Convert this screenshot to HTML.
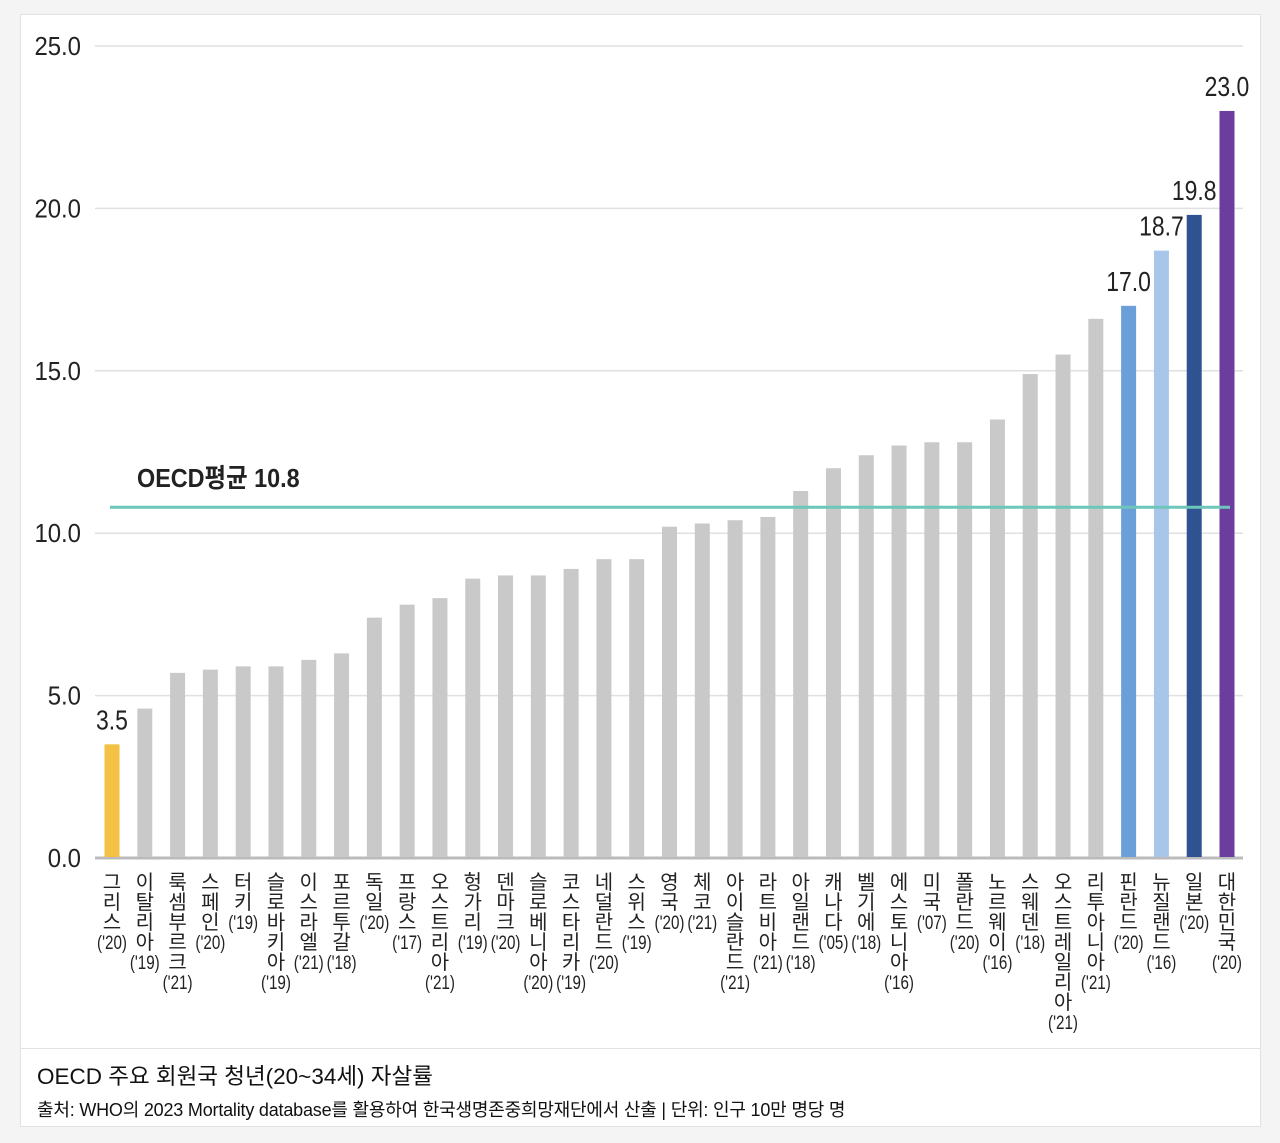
<!DOCTYPE html>
<html><head><meta charset="utf-8"><style>
body{margin:0;background:#f4f4f4;width:1280px;height:1143px;overflow:hidden;font-family:"Liberation Sans","Noto Sans CJK KR",sans-serif}
#card{position:absolute;left:20px;top:14px;width:1241px;height:1113px;background:#fff;border:1px solid #e2e2e2;box-sizing:border-box}
#cap{position:absolute;left:0;top:1033px;width:100%;height:80px;border-top:1px solid #e2e2e2}
#t1{position:absolute;left:16px;top:10px;font-size:22.5px;color:#111}
#t2{position:absolute;left:16px;top:47px;font-size:18px;color:#111;letter-spacing:-0.2px}
svg{position:absolute;left:0;top:0}
</style></head><body>
<div id="card">
<div id="cap">
<div id="t1">OECD 주요 회원국 청년(20~34세) 자살률</div>
<div id="t2">출처: WHO의 2023 Mortality database를 활용하여 한국생명존중희망재단에서 산출 | 단위: 인구 10만 명당 명</div>
</div></div>
<svg id="chart" width="1280" height="1143"></svg>
<script>
const cats=["그리스","이탈리아","룩셈부르크","스페인","터키","슬로바키아","이스라엘","포르투갈","독일","프랑스","오스트리아","헝가리","덴마크","슬로베니아","코스타리카","네덜란드","스위스","영국","체코","아이슬란드","라트비아","아일랜드","캐나다","벨기에","에스토니아","미국","폴란드","노르웨이","스웨덴","오스트레일리아","리투아니아","핀란드","뉴질랜드","일본","대한민국"];
const years=["20","19","21","20","19","19","21","18","20","17","21","19","20","20","19","20","19","20","21","21","21","18","05","18","16","07","20","16","18","21","21","20","16","20","20"];
const values=[3.5,4.6,5.7,5.8,5.9,5.9,6.1,6.3,7.4,7.8,8.0,8.6,8.7,8.7,8.9,9.2,9.2,10.2,10.3,10.4,10.5,11.3,12.0,12.4,12.7,12.8,12.8,13.5,14.9,15.5,16.6,17.0,18.7,19.8,23.0];
const shownLabels=["3.5","","","","","","","","","","","","","","","","","","","","","","","","","","","","","","","17.0","18.7","19.8","23.0"];
const colors={"그리스":"#f3c244","핀란드":"#6b9fd9","뉴질랜드":"#a8c5ea","일본":"#2f5291","대한민국":"#6a3d9e"};
const yTicks=[0,5,10,15,20,25];
const oecdAvg=10.8;
const svg=document.getElementById('chart');const NS='http://www.w3.org/2000/svg';
const y0=858,y1=46,ymax=25;
const Y=v=>y0-(v/ymax)*(y0-y1);
const n=cats.length;const X=i=>112+i*(1227-112)/(n-1);
function mk(t,a,txt){const e=document.createElementNS(NS,t);for(const k in a)e.setAttribute(k,a[k]);if(txt!=null)e.textContent=txt;svg.appendChild(e);return e;}
yTicks.forEach(t=>{
 const g=mk('line',{x1:95,x2:1243,y1:Y(t),y2:Y(t),stroke:t===0?'#bbb':'#e0e0e0','stroke-width':t===0?3:1.5});
 
 
 const l=mk('text',{x:81,y:Y(t)+9,'text-anchor':'end','font-size':26,fill:'#222',transform:`translate(81 0) scale(0.92 1) translate(-81 0)`},t.toFixed(1));
 
 
});
cats.forEach((c,i)=>{
 const x=X(i),v=values[i];
 const b=mk('rect',{x:x-7.5,y:Y(v),width:15,height:y0-Y(v)-1,fill:colors[c]||'#c9c9c9'});
 
 
 if(shownLabels[i]){const t=mk('text',{x:x,y:Y(v)-15,'text-anchor':'middle','font-size':28,fill:'#222',transform:`translate(${x} 0) scale(0.82 1) translate(${-x} 0)`},shownLabels[i]);
 
 }
 const chars=[...c];
 chars.forEach((ch,j)=>{const t=mk('text',{x:x,y:889+j*20,'text-anchor':'middle','font-size':20,fill:'#222'},ch);
 
 });
 const yt=mk('text',{x:x,y:889+chars.length*20,'text-anchor':'middle','font-size':19,fill:'#222',transform:`translate(${x} 0) scale(0.8 1) translate(${-x} 0)`},"('"+years[i]+")");
 
 
});
const ol=mk('line',{x1:110,x2:1230,y1:Y(oecdAvg),y2:Y(oecdAvg),stroke:'#6cc6b9','stroke-width':3});


const ot=mk('text',{x:137,y:Y(oecdAvg)-20,'font-size':26,'font-weight':'bold',fill:'#222',transform:'translate(137 0) scale(0.9 1) translate(-137 0)'},'OECD평균 '+oecdAvg);


</script>
</body></html>
